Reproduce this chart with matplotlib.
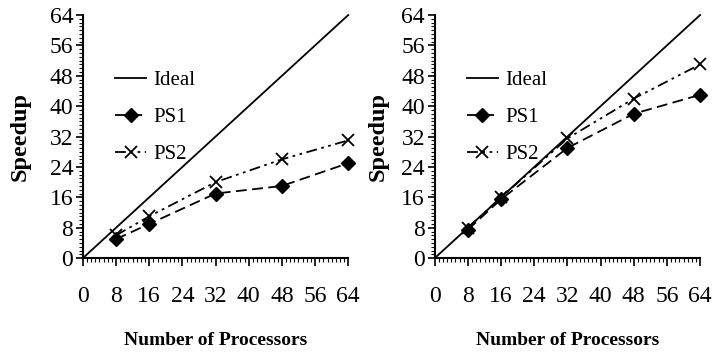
import matplotlib.pyplot as plt
from matplotlib.ticker import MultipleLocator

# processors counts
procs = [8, 16, 32, 48, 64]
ideal_x = [0, 64]
ideal_y = [0, 64]

# left panel speedups
left_ps1 = [5, 9, 17, 19, 25]
left_ps2 = [6, 11, 20, 26, 31]

# right panel speedups
right_ps1 = [7.5, 15.5, 29, 38, 43]
right_ps2 = [8, 16, 31.5, 42, 51]

ticks = [0, 8, 16, 24, 32, 40, 48, 56, 64]

plt.rcParams['font.family'] = ['Liberation Serif', 'DejaVu Serif']

fig = plt.figure(figsize=(7.27, 3.58), dpi=100)
ax1 = fig.add_axes([0.114, 0.279, 0.365, 0.679])
ax2 = fig.add_axes([0.598, 0.279, 0.365, 0.679])


def draw_panel(ax, ps1, ps2, ylab_x):
    ax.plot(ideal_x, ideal_y, color='black', lw=1.3, label='Ideal', clip_on=False)
    ax.plot(procs, ps1, color='black', lw=1.3, ls=(0, (6, 3)), clip_on=False,
            marker='D', ms=7, markerfacecolor='black', label='PS1')
    ax.plot(procs, ps2, color='black', lw=1.3, ls=(0, (6, 2.5, 1.5, 2.5, 1.5, 2.5)),
            clip_on=False, marker='x', ms=9, mew=1.3, label='PS2')

    ax.set_xlim(0, 64)
    ax.set_ylim(0, 64)
    ax.set_xticks(ticks)
    ax.set_yticks(ticks)
    ax.xaxis.set_minor_locator(MultipleLocator(1))
    ax.yaxis.set_minor_locator(MultipleLocator(1))
    ax.tick_params(which='major', direction='out', length=6, width=1.2, labelsize=17)
    ax.tick_params(axis='x', which='major', pad=14)
    ax.tick_params(axis='y', which='major', length=5, pad=2)
    ax.tick_params(which='minor', direction='out', length=3, width=0.8)
    for side in ['top', 'right']:
        ax.spines[side].set_visible(False)
    for side in ['left', 'bottom']:
        ax.spines[side].set_linewidth(1.5)

    ax.set_xlabel('Number of Processors', fontsize=14, fontweight='bold')
    ax.set_ylabel('Speedup', fontsize=17.5, fontweight='bold')
    ax.xaxis.set_label_coords(0.5, -0.305)
    ax.yaxis.set_label_coords(ylab_x, 0.5)

    ax.legend(loc='upper left', bbox_to_anchor=(0.05, 0.85), frameon=False,
              fontsize=15, handlelength=1.5, handletextpad=0.35,
              labelspacing=0.85)


draw_panel(ax1, left_ps1, left_ps2, -0.195)
draw_panel(ax2, right_ps1, right_ps2, -0.175)

plt.savefig('out.png', dpi=100)
